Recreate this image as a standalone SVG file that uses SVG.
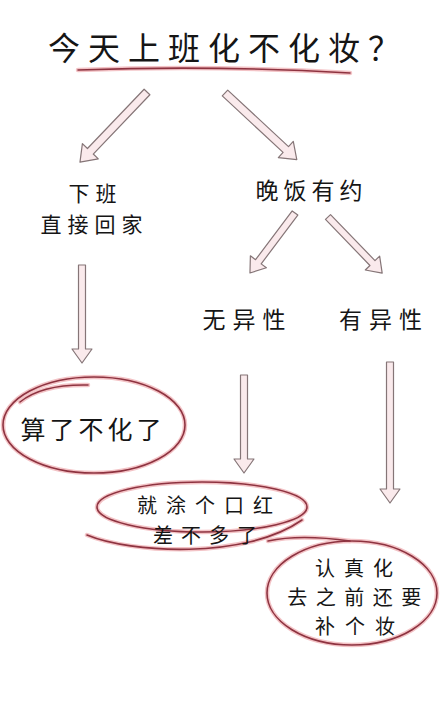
<svg xmlns="http://www.w3.org/2000/svg" width="440" height="722" viewBox="0 0 440 722">
<style>
  text { font-family: "Noto Sans CJK SC", "Noto Sans", sans-serif; fill: #151515; }
  .t { font-size: 32px; letter-spacing: 8px; }
  .m { font-size: 23px; letter-spacing: 5px; text-anchor: middle; }
  .s { font-size: 20px; text-anchor: middle; }
  .halo { fill: none; stroke: #f3c3c6; stroke-width: 4.5; stroke-linecap: round; }
  .line { fill: none; stroke: #8e3340; stroke-width: 1.6; stroke-linecap: round; }
  .arrow { fill: #faeaec; stroke: #857577; stroke-width: 1.2; stroke-linejoin: round; }
</style>

<g id="title">
  <text class="t" x="48" y="60">今天上班化不化妆？</text>
  <path class="halo" d="M78,70 Q215,65 350,73"/>
  <path class="line" d="M78,70 Q215,65 350,73"/>
</g>

<g id="connectors">
  <polygon class="arrow" transform="translate(147,92) rotate(43.7)" points="-4,0 4,0 4,82 11,82 0,97 -11,82 -4,82"/>
  <polygon class="arrow" transform="translate(225,93) rotate(-47.1)" points="-4,0 4,0 4,83 11,83 0,98 -11,83 -4,83"/>
  <polygon class="arrow" transform="translate(295,213) rotate(36.9)" points="-3.5,0 3.5,0 3.5,61 10,61 0,75 -10,61 -3.5,61"/>
  <polygon class="arrow" transform="translate(328,217) rotate(-44)" points="-3.5,0 3.5,0 3.5,64 10,64 0,78 -10,64 -3.5,64"/>
  <polygon class="arrow" transform="translate(82,265)" points="-3.5,0 3.5,0 3.5,84 10,84 0,98 -10,84 -3.5,84"/>
  <polygon class="arrow" transform="translate(244,375)" points="-3.5,0 3.5,0 3.5,84 10,84 0,98 -10,84 -3.5,84"/>
  <polygon class="arrow" transform="translate(390,362)" points="-3.5,0 3.5,0 3.5,127 10,127 0,141 -10,127 -3.5,127"/>
</g>

<g id="go-home">
  <text class="m" x="95.5" y="201" style="font-size:21px;letter-spacing:6px">下班</text>
  <text class="m" x="94.5" y="232" style="font-size:21px;letter-spacing:6px">直接回家</text>
</g>

<g id="dinner">
  <text class="m" x="311.5" y="199">晚饭有约</text>
</g>

<g id="no-opposite-sex">
  <text class="m" x="247.5" y="328" style="letter-spacing:7px">无异性</text>
</g>

<g id="opposite-sex">
  <text class="m" x="384" y="328" style="letter-spacing:7px">有异性</text>
</g>

<g id="no-makeup">
  <ellipse class="halo" cx="94" cy="425" rx="91" ry="48"/>
  <path class="halo" d="M20,402 Q42,384 88,385"/>
  <ellipse class="line" cx="94" cy="425" rx="91" ry="48"/>
  <path class="line" d="M20,402 Q42,384 88,385"/>
  <text class="m" x="93" y="439" style="font-size:25px;letter-spacing:4px">算了不化了</text>
</g>

<g id="lipstick">
  <ellipse class="halo" cx="202" cy="507" rx="105" ry="25"/>
  <path class="halo" d="M87,535 C130,553 245,560 302,520"/>
  <ellipse class="line" cx="202" cy="507" rx="105" ry="25"/>
  <path class="line" d="M87,535 C130,553 245,560 302,520"/>
  <text class="s" x="209.5" y="513" style="letter-spacing:9px">就涂个口红</text>
  <text class="s" x="209" y="543" style="letter-spacing:8px">差不多了</text>
</g>

<g id="full-makeup">
  <ellipse class="halo" cx="352" cy="593" rx="85" ry="52"/>
  <path class="halo" d="M268,541 Q300,534 350,541"/>
  <ellipse class="line" cx="352" cy="593" rx="85" ry="52"/>
  <path class="line" d="M268,541 Q300,534 350,541"/>
  <text class="s" x="358.5" y="576" style="letter-spacing:9px">认真化</text>
  <text class="s" x="358.5" y="605" style="letter-spacing:8.5px">去之前还要</text>
  <text class="s" x="360" y="634" style="letter-spacing:10px">补个妆</text>
</g>
</svg>
